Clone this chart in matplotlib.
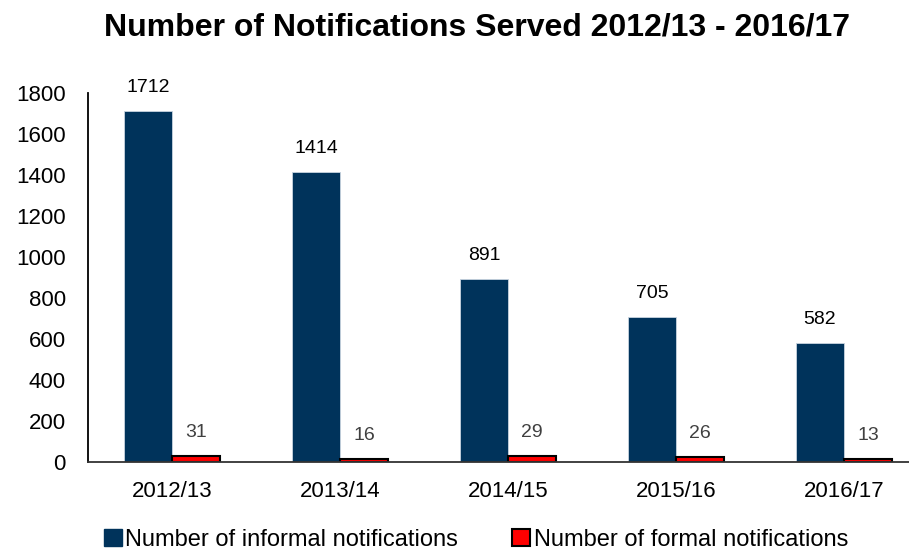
import matplotlib
matplotlib.use("Agg")
import matplotlib.pyplot as plt
import numpy as np
from matplotlib.patches import Patch

plt.rcParams['font.family'] = ['Liberation Sans', 'DejaVu Sans']

years = ["2012/13", "2013/14", "2014/15", "2015/16", "2016/17"]
informal = [1712, 1414, 891, 705, 582]
formal = [31, 16, 29, 26, 13]
yticks = [0, 200, 400, 600, 800, 1000, 1200, 1400, 1600, 1800]

W, H = 909, 552
fig = plt.figure(figsize=(W/100, H/100), dpi=100)
ax = fig.add_axes([88/W, (H-462)/H, 840/W, 369/H])

x = np.arange(len(years))
bw = 48/168
blue = "#00335B"
ax.bar(x - bw/2, informal, bw, color=blue, edgecolor="#c8d4e0", linewidth=0.6)
ax.bar(x + bw/2, formal, bw, color="#FF0000", edgecolor="black", linewidth=1.5)

for xi, v in zip(x, informal):
    ax.annotate(str(v), (xi - bw/2, v), xytext=(0, 17), textcoords="offset points",
                ha="center", va="center", fontsize=14, color="black")
for xi, v in zip(x, formal):
    ax.annotate(str(v), (xi + bw/2, v), xytext=(0, 17), textcoords="offset points",
                ha="center", va="center", fontsize=14, color="#404040")

ax.set_xlim(-0.5, 4.5)
ax.set_ylim(0, 1800)
ax.set_yticks(yticks)
ax.set_yticklabels([str(t) for t in yticks], fontsize=16)
ax.set_xticks(x)
ax.set_xticklabels(years, fontsize=16)
ax.tick_params(axis="y", length=0, pad=16)
ax.tick_params(axis="x", length=0, pad=14)
for s in ["top", "right"]:
    ax.spines[s].set_visible(False)
ax.spines["left"].set_color("black")
ax.spines["left"].set_linewidth(1.3)
ax.spines["bottom"].set_color("#333333")
ax.spines["bottom"].set_linewidth(1.3)

fig.text(477/W, 1 - 27/H, "Number of Notifications Served 2012/13 - 2016/17",
         ha="center", va="center", fontsize=23, fontweight="bold")

handles = [Patch(facecolor=blue, edgecolor=blue, label="Number of informal notifications"),
           Patch(facecolor="#FF0000", edgecolor="black", linewidth=1.5, label="Number of formal notifications")]
fig.legend(handles=handles, loc="center", bbox_to_anchor=(476/W, 1 - 540/H), ncol=2,
           frameon=False, fontsize=17, handlelength=0.76, handleheight=0.76,
           handletextpad=0.15, columnspacing=2.3, borderaxespad=0)

fig.savefig("out.png", dpi=100)
